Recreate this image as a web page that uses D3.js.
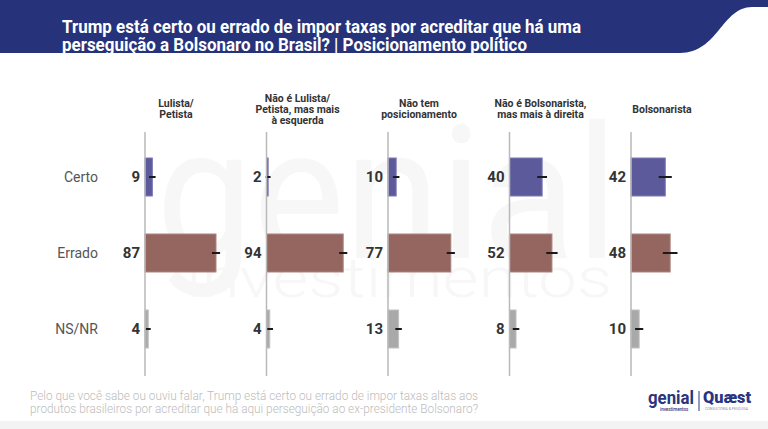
<!DOCTYPE html>
<html>
<head>
<meta charset="utf-8">
<script src="https://cdn.jsdelivr.net/npm/d3@7"></script>
<style>
  body { margin: 0; background: #fff; }
  svg { display: block; font-family: Roboto, "Noto Sans", sans-serif; }
</style>
</head>
<body>
<div id="chart"></div>
<script>
// data
var groupLabels = [
    ["Lulista/", "Petista"],
    ["Não é Lulista/", "Petista, mas mais", "à esquerda"],
    ["Não tem", "posicionamento"],
    ["Não é Bolsonarista,", "mas mais à direita"],
    ["Bolsonarista"]
];
var answers = ["Certo", "Errado", "NS/NR"];
var certo  = [9, 2, 10, 40, 42];
var errado = [87, 94, 77, 52, 48];
var nsnr   = [4, 4, 13, 8, 10];
// margem de erro (pontos)
var moeCerto  = [4, 3, 4, 6, 8];
var moeErrado = [5, 5, 5, 7, 9];
var moeNsnr   = [3, 4, 4, 4, 5];

var titleLines = [
    "Trump está certo ou errado de impor taxas por acreditar que há uma",
    "perseguição a Bolsonaro no Brasil? | Posicionamento político"
];
var noteLines = [
    "Pelo que você sabe ou ouviu falar, Trump está certo ou errado de impor taxas altas aos",
    "produtos brasileiros por acreditar que há aqui perseguição ao ex-presidente Bolsonaro?"
];

var width = 768, height = 429;
var colors = { "Certo": "#5d5a9c", "Errado": "#94665f", "NS/NR": "#a9a9a9" };
var strokes = { "Certo": "#7a78b4", "Errado": "#ab8580", "NS/NR": "#c2c2c2" };

var series = { "Certo": certo, "Errado": errado, "NS/NR": nsnr };
var moes = { "Certo": moeCerto, "Errado": moeErrado, "NS/NR": moeNsnr };

var svg = d3.select("#chart").append("svg")
    .attr("width", width)
    .attr("height", height);

// bottom strip
svg.append("rect").attr("x", 0).attr("y", 421).attr("width", width).attr("height", 8)
    .attr("fill", "#f3f3f3");

// watermark (faint logo behind the bars)
var wm = svg.append("g").attr("fill", "#f7f7f7");
wm.append("text").attr("x", 156).attr("y", 258)
    .attr("font-size", 185).attr("font-weight", 400)
    .attr("textLength", 462).attr("lengthAdjust", "spacingAndGlyphs")
    .text("genial");
wm.append("text").attr("x", 186).attr("y", 297)
    .attr("font-size", 56).attr("font-weight", 300)
    .attr("textLength", 426).attr("lengthAdjust", "spacingAndGlyphs")
    .text("investimentos");

// header band
svg.append("path")
    .attr("d", "M0,0 H768 V7 H752 C722,7 718,53 680,53 H0 Z")
    .attr("fill", "#26337a");

svg.append("g").selectAll("text")
    .data(titleLines).enter()
    .append("text")
    .attr("x", 62)
    .attr("y", function (d, i) { return 33 + i * 17.5; })
    .attr("fill", "#fff")
    .attr("font-size", 17.5)
    .attr("font-weight", 700)
    .attr("textLength", function (d, i) { return i == 0 ? 519 : 465; })
    .attr("lengthAdjust", "spacingAndGlyphs")
    .text(function (d) { return d; });

// scales
var gx = d3.scalePoint().domain(d3.range(groupLabels.length)).range([145, 631]);
var y = d3.scaleBand().domain(answers).range([139, 367]).paddingInner(0.5).paddingOuter(0.25);
var x = d3.scaleLinear().domain([0, 100]).range([0, 81.6]);

// row labels
svg.append("g").selectAll("text")
    .data(answers).enter()
    .append("text")
    .attr("x", 98)
    .attr("y", function (d) { return y(d) + y.bandwidth() / 2; })
    .attr("dy", "0.35em")
    .attr("text-anchor", "end")
    .attr("font-size", 14)
    .attr("fill", "#555")
    .text(function (d) { return d; });

var groups = svg.append("g").selectAll("g")
    .data(groupLabels).enter()
    .append("g")
    .attr("transform", function (d, i) { return "translate(" + gx(i) + ",0)"; });

// column headers
groups.each(function (lines) {
    var g = d3.select(this);
    var top = 109 - (lines.length - 1) * 11 / 2;
    g.selectAll("text.head")
        .data(lines).enter()
        .append("text")
        .attr("class", "head")
        .attr("x", 31)
        .attr("y", function (d, i) { return top + i * 11; })
        .attr("dy", "0.35em")
        .attr("text-anchor", "middle")
        .attr("font-size", 10.5)
        .attr("font-weight", 700)
        .attr("fill", "#333")
        .text(function (d) { return d; });
});

// bars
groups.each(function (lines, gi) {
    var g = d3.select(this);
    var rows = answers.map(function (a) {
        return { answer: a, value: series[a][gi], moe: moes[a][gi] };
    });

    g.selectAll("rect.bar")
        .data(rows).enter()
        .append("rect")
        .attr("class", "bar")
        .attr("x", 0)
        .attr("y", function (d) { return y(d.answer); })
        .attr("width", function (d) { return x(d.value); })
        .attr("height", y.bandwidth())
        .attr("fill", function (d) { return colors[d.answer]; })
        .attr("stroke", function (d) { return strokes[d.answer]; })
        .attr("stroke-width", 1);

    g.selectAll("line.err")
        .data(rows).enter()
        .append("line")
        .attr("class", "err")
        .attr("x1", function (d) { return x(d.value - d.moe); })
        .attr("x2", function (d) { return x(d.value + d.moe); })
        .attr("y1", function (d) { return y(d.answer) + y.bandwidth() / 2; })
        .attr("y2", function (d) { return y(d.answer) + y.bandwidth() / 2; })
        .attr("stroke", "#1a1a1a")
        .attr("stroke-width", 2);

    g.append("line")
        .attr("x1", 0).attr("x2", 0)
        .attr("y1", 132).attr("y2", 376)
        .attr("stroke", "#b9b9b9")
        .attr("stroke-width", 1.5);

    g.selectAll("text.val")
        .data(rows).enter()
        .append("text")
        .attr("class", "val")
        .attr("x", -5)
        .attr("y", function (d) { return y(d.answer) + y.bandwidth() / 2; })
        .attr("dy", "0.36em")
        .attr("text-anchor", "end")
        .attr("font-size", 15)
        .attr("font-weight", 700)
        .attr("fill", "#333")
        .text(function (d) { return d.value; });
});

// note
svg.append("g").selectAll("text")
    .data(noteLines).enter()
    .append("text")
    .attr("x", 30)
    .attr("y", function (d, i) { return 400 + i * 13; })
    .attr("font-size", 12)
    .attr("font-weight", 300)
    .attr("fill", "#bcbcbc")
    .attr("textLength", 448)
    .attr("lengthAdjust", "spacingAndGlyphs")
    .text(function (d) { return d; });

// logos
var logo = svg.append("g").attr("fill", "#2a3580");
logo.append("text").attr("x", 648).attr("y", 404)
    .attr("font-size", 19).attr("font-weight", 700)
    .attr("textLength", 46).attr("lengthAdjust", "spacingAndGlyphs")
    .text("genial");
logo.append("text").attr("x", 660).attr("y", 411)
    .attr("font-size", 4.5).attr("font-weight", 500)
    .text("investimentos");
logo.append("line").attr("x1", 699).attr("x2", 699).attr("y1", 391).attr("y2", 411)
    .attr("stroke", "#2a3580").attr("stroke-width", 1);
logo.append("text").attr("x", 703).attr("y", 403)
    .attr("font-size", 16).attr("font-weight", 900)
    .attr("textLength", 48).attr("lengthAdjust", "spacingAndGlyphs")
    .text("Quæst");
logo.append("text").attr("x", 705).attr("y", 410)
    .attr("font-size", 3.5).attr("fill", "#8a8fb0")
    .text("CONSULTORIA & PESQUISA");
</script>
</body>
</html>
